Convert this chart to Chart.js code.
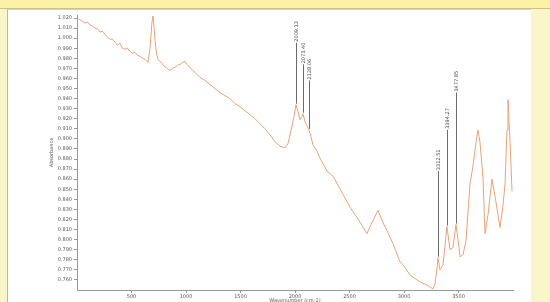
<!DOCTYPE html>
<html>
<head>
<meta charset="utf-8">
<script src="https://cdn.jsdelivr.net/npm/chart.js@4.4.0/dist/chart.umd.min.js"></script>
<style>
  html, body { margin: 0; padding: 0; width: 550px; height: 302px; overflow: hidden; background: #fbf6c9; }
  #topbar { position: absolute; left: 0; top: 0; width: 550px; height: 8px; background: #fbf2a6; border-bottom: 1px solid #c9c08a; }
  #panel { position: absolute; left: 7px; top: 9px; width: 523px; height: 300px; background: #fff; border-left: 1px solid #bdb9a0; border-top: 1px solid #d8d3b0; }
  canvas { display: block; }
</style>
</head>
<body>
<div id="topbar"></div>
<div id="panel"><canvas id="spectrum" width="522" height="300"></canvas></div>
<script>
// spectrum
const wavenumber = [18, 45, 73, 96, 119, 142, 165, 188, 211, 234, 257, 280, 303, 326, 349, 372, 394, 417, 440, 463,
  486, 509, 532, 555, 578, 601, 624, 640, 651, 670, 688, 697, 706, 716, 730, 743, 760, 780, 800, 817,
  835, 853, 876, 899, 922, 945, 968, 991, 1014, 1037, 1060, 1083, 1128, 1175, 1220, 1266, 1312, 1358, 1404, 1450,
  1495, 1541, 1587, 1633, 1679, 1725, 1771, 1817, 1862, 1908, 1935, 1954, 1991, 2009, 2027, 2046, 2060, 2073, 2092, 2110,
  2128, 2147, 2165, 2202, 2229, 2294, 2349, 2400, 2440, 2505, 2569, 2615, 2660, 2706, 2761, 2807, 2844, 2899, 2963, 2991,
  3055, 3119, 3165, 3211, 3238, 3266, 3284, 3303, 3312, 3330, 3358, 3394, 3422, 3449, 3477, 3495, 3514, 3541, 3569, 3605,
  3633, 3661, 3679, 3697, 3725, 3743, 3771, 3807, 3835, 3881, 3908, 3927, 3945, 3954, 3973, 3991];
const absorbance = [1.019, 1.017, 1.015, 1.016, 1.013, 1.012, 1.010, 1.009, 1.006, 1.007, 1.004, 1.001, 0.999, 0.999, 0.996, 0.993, 0.995, 0.990, 0.989, 0.990,
  0.987, 0.985, 0.986, 0.983, 0.982, 0.980, 0.979, 0.977, 0.976, 0.990, 1.016, 1.022, 1.012, 0.998, 0.984, 0.979, 0.977, 0.975, 0.972, 0.971,
  0.969, 0.968, 0.970, 0.971, 0.973, 0.974, 0.976, 0.977, 0.973, 0.971, 0.968, 0.966, 0.961, 0.958, 0.954, 0.950, 0.946, 0.943, 0.940, 0.935,
  0.932, 0.928, 0.924, 0.920, 0.915, 0.910, 0.904, 0.897, 0.893, 0.891, 0.895, 0.904, 0.922, 0.934, 0.927, 0.919, 0.921, 0.925, 0.917, 0.913,
  0.909, 0.902, 0.894, 0.888, 0.881, 0.868, 0.863, 0.853, 0.845, 0.832, 0.822, 0.814, 0.806, 0.817, 0.829, 0.817, 0.809, 0.796, 0.778, 0.775,
  0.765, 0.760, 0.757, 0.755, 0.753, 0.751, 0.756, 0.772, 0.782, 0.770, 0.775, 0.813, 0.790, 0.792, 0.815, 0.800, 0.783, 0.785, 0.799, 0.855,
  0.873, 0.897, 0.909, 0.897, 0.861, 0.806, 0.825, 0.860, 0.843, 0.812, 0.834, 0.855, 0.909, 0.939, 0.897, 0.848];

// picked peaks
const peakWn = [2009, 2073, 2128, 3312, 3394, 3477];
const peakAbs = [0.934, 0.925, 0.909, 0.782, 0.813, 0.815];
const peakText = ['2009.13', '2073.40', '2128.06', '3312.51', '3394.27', '3477.85'];
const peakLabelLevel = [0.9955, 0.974, 0.958, 0.868, 0.909, 0.946];

const xTicks = [500, 1000, 1500, 2000, 2500, 3000, 3500];
const yTicks = [0.760, 0.770, 0.780, 0.790, 0.800, 0.810, 0.820, 0.830, 0.840, 0.850, 0.860, 0.870, 0.880, 0.890,
  0.900, 0.910, 0.920, 0.930, 0.940, 0.950, 0.960, 0.970, 0.980, 0.990, 1.000, 1.010, 1.020];

const points = wavenumber.map((w, i) => ({ x: w, y: absorbance[i] }));

const peakMarks = {
  id: 'peakMarks',
  afterDatasetsDraw(chart) {
    const { ctx, scales: { x, y } } = chart;
    ctx.save();
    ctx.strokeStyle = '#6b6b6b';
    ctx.lineWidth = 1;
    ctx.fillStyle = '#444';
    ctx.font = '5px "DejaVu Sans"';
    peakWn.forEach((w, i) => {
      const px = Math.round(x.getPixelForValue(w)) + 0.5;
      const py = y.getPixelForValue(peakAbs[i]);
      const top = y.getPixelForValue(peakLabelLevel[i]);
      ctx.beginPath();
      ctx.moveTo(px, py - 1);
      ctx.lineTo(px, top);
      ctx.stroke();
      ctx.save();
      ctx.translate(px, top - 1);
      ctx.rotate(-Math.PI / 2);
      ctx.textAlign = 'left';
      ctx.textBaseline = 'middle';
      ctx.fillText(peakText[i], 0, 0);
      ctx.restore();
    });
    ctx.restore();
  }
};

new Chart(document.getElementById('spectrum'), {
  type: 'line',
  data: {
    datasets: [{
      label: 'Absorbance',
      data: points,
      borderColor: '#e8a27a',
      borderWidth: 1,
      pointRadius: 0,
      tension: 0,
      fill: false
    }]
  },
  options: {
    responsive: false,
    animation: false,
    layout: { padding: { left: 0, right: 17, top: 2, bottom: 0 } },
    plugins: {
      legend: { display: false },
      tooltip: { enabled: false }
    },
    scales: {
      x: {
        type: 'linear',
        min: 0,
        max: 4000,
        afterFit: s => { s.height = 20; },
        afterBuildTicks: s => { s.ticks = xTicks.map(v => ({ value: v })); },
        grid: { drawOnChartArea: false, drawTicks: true, tickLength: 3, color: '#999' },
        border: { color: '#999' },
        ticks: { font: { size: 5, family: 'DejaVu Sans' }, color: '#555', padding: 1, maxRotation: 0, callback: v => String(v) },
        title: { display: true, text: 'Wavenumber (cm-1)', font: { size: 5, family: 'DejaVu Sans' }, color: '#555', padding: { top: 0, bottom: 6 } }
      },
      y: {
        min: 0.750,
        max: 1.023,
        afterFit: s => { s.width = 69; },
        afterBuildTicks: s => { s.ticks = yTicks.map(v => ({ value: v })); },
        grid: { drawOnChartArea: false, drawTicks: true, tickLength: 3, color: '#999' },
        border: { color: '#999' },
        ticks: { font: { size: 5, family: 'DejaVu Sans' }, color: '#555', padding: 2, callback: v => v.toFixed(3) },
        title: { display: true, text: 'Absorbance', font: { size: 5, family: 'DejaVu Sans' }, color: '#555', padding: { top: 41, bottom: 0 } }
      }
    }
  },
  plugins: [peakMarks]
});
</script>
</body>
</html>
